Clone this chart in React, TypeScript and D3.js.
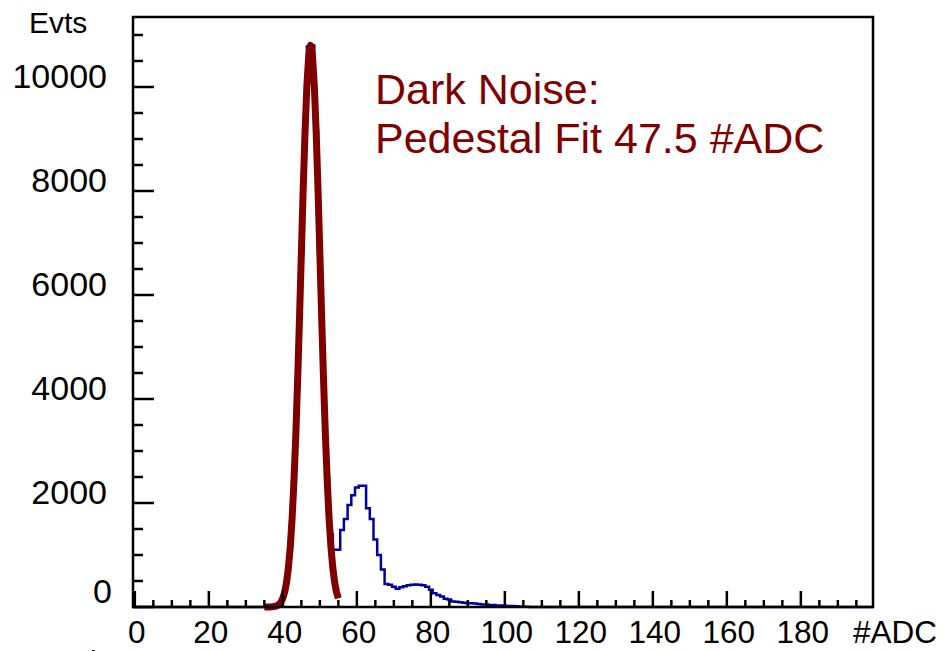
import React from "react";
import * as d3 from "d3";

// ---- data ----
const histBins = [35,36,37,38,39,40,41,42,43,44,45,46,47,48,49,50,51,52,53,54,55,56,57,58,59,60,61,62,63,64,65,66,67,68,69,70,71,72,73,74,75,76,77,78,79,80,81,82,83,84,85,86,87,88,89,90,91,92,93,94,95,96,97,98,99,100,101,102,103,104,105,106,107];
const histCounts = [0,1,3,14,50,170,470,1150,2420,4360,6800,9150,10780,10800,9150,6800,4400,2500,1400,1100,1100,1480,1690,1960,2150,2300,2330,2330,1900,1690,1300,1000,720,440,430,390,350,380,400,420,430,435,430,420,390,330,265,230,200,160,145,105,100,90,80,72,70,65,60,50,48,40,38,30,27,25,20,18,15,10,6,4,2];

const fitX = [35,35.5,36,36.5,37,37.5,38,38.5,39,39.5,40,40.5,41,41.5,42,42.5,43,43.5,44,44.5,45,45.5,46,46.5,47,47.5,48,48.5,49,49.5,50,50.5,51,51.5,52,52.5,53,53.5,54,54.5,55];
const fitY = [0,0,1,1,3,7,14,27,52,95,169,288,474,754,1153,1700,2415,3307,4364,5550,6802,8034,9144,10030,10602,10800,10602,10030,9144,8034,6802,5550,4364,3307,2415,1700,1153,754,474,288,169];

const xMajorTicks = [0,20,40,60,80,100,120,140,160,180];
const yMajorTicks = [0,2000,4000,6000,8000,10000];
const xTitle = "#ADC";
const yTitle = "Evts";
const noteLines = ["Dark Noise:", "Pedestal Fit 47.5 #ADC"];

const nBins = 200;
const xMin = -0.5;
const xMax = 199.5;
const yMax = 11346;

export default function App() {
  const left = 133, right = 873, top = 17, bottom = 607;
  const x = d3.scaleLinear().domain([xMin, xMax]).range([left, right]);
  const y = d3.scaleLinear().domain([0, yMax]).range([bottom, top]);

  const counts: number[] = new Array(nBins).fill(0);
  histBins.forEach((b, i) => { counts[b] = histCounts[i]; });
  const stepPts: [number, number][] = counts.map((c, i) => [i - 0.5, c]);
  stepPts.push([nBins - 0.5, counts[nBins - 1]]);
  const histPath = d3.line<[number, number]>()
    .x(d => x(d[0])).y(d => y(d[1]))
    .curve(d3.curveStepAfter)(stepPts) || "";

  const fitPath = d3.line<number>()
    .x((d, i) => x(fitX[i])).y(d => y(d))(fitY) || "";

  const xMinor = d3.range(0, 200, 5).filter(v => v % 20 !== 0);
  const yMinor = d3.range(0, 11001, 500).filter(v => v % 2000 !== 0);

  const font = "'Liberation Sans', Arial, Helvetica, sans-serif";
  const red = "#800000";
  const blue = "#0000a0";

  return (
    <svg width={944} height={651} style={{ position: "absolute", left: 0, top: 0, background: "#fff" }}
      fontFamily={font}>
      <rect x={0} y={0} width={944} height={651} fill="#fff" />
      <path d={histPath} fill="none" stroke={blue} strokeWidth={2.5} />
      <path d={fitPath} fill="none" stroke={red} strokeWidth={7} strokeLinejoin="round" />
      <rect x={left} y={top} width={right - left} height={bottom - top} fill="none" stroke="#000" strokeWidth={2.5} />
      {xMajorTicks.map(t => (
        <line key={"xM" + t} x1={x(t)} x2={x(t)} y1={bottom} y2={bottom - 16} stroke="#000" strokeWidth={2.5} />
      ))}
      {xMinor.map(t => (
        <line key={"xm" + t} x1={x(t)} x2={x(t)} y1={bottom} y2={bottom - 7} stroke="#000" strokeWidth={2.5} />
      ))}
      {yMajorTicks.map(t => (
        <line key={"yM" + t} x1={left} x2={left + 21} y1={y(t)} y2={y(t)} stroke="#000" strokeWidth={2.5} />
      ))}
      {yMinor.map(t => (
        <line key={"ym" + t} x1={left} x2={left + 10} y1={y(t)} y2={y(t)} stroke="#000" strokeWidth={2.5} />
      ))}
      {xMajorTicks.map(t => (
        <text key={"xl" + t} x={x(t) + 2} y={643} fontSize={31.5} textAnchor="middle" fill="#000">{t}</text>
      ))}
      <text x={937} y={643} fontSize={31.5} textAnchor="end" fill="#000">{xTitle}</text>
      {yMajorTicks.map(t => (
        <text key={"yl" + t} x={t === 0 ? 112 : 107} y={t === 0 ? y(t) - 4 : y(t) + 1} fontSize={34} textAnchor="end" fill="#000">{t}</text>
      ))}
      <text x={29} y={33} fontSize={30} fill="#000">{yTitle}</text>
      <text x={375} y={104} fontSize={43} fill={red}>{noteLines[0]}</text>
      <text x={375} y={153} fontSize={43} fill={red}>{noteLines[1]}</text>
      <text x={35} y={672} fontSize={30} fill="#000">Entries</text>
    </svg>
  );
}
